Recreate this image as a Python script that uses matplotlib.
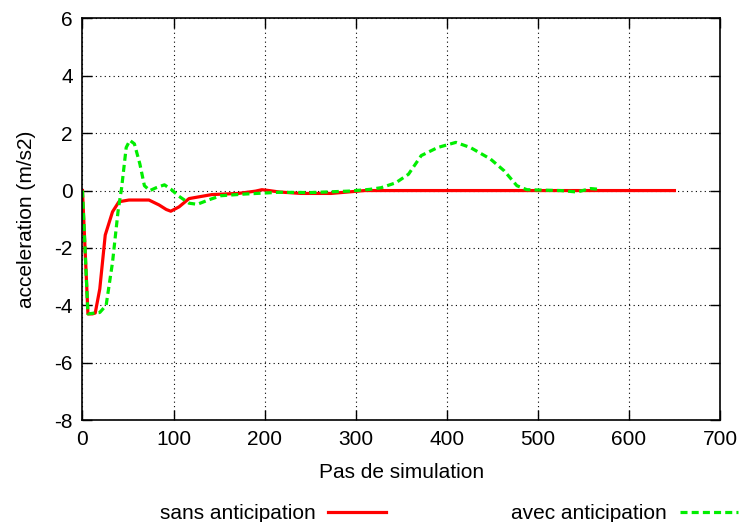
import matplotlib
matplotlib.use("Agg")
import matplotlib.pyplot as plt
from matplotlib.lines import Line2D

plt.rcParams['font.family'] = ['Liberation Sans', 'DejaVu Sans']
plt.rcParams['axes.unicode_minus'] = False

# Data
x_sans = [0, 6, 11, 14, 19, 25, 33, 40, 51, 73, 84, 92, 97, 106, 117, 142, 171, 190, 197, 205, 216, 240, 273, 310, 400, 500, 600, 650]
y_sans = [0, -4.3, -4.3, -4.27, -3.43, -1.55, -0.74, -0.39, -0.33, -0.33, -0.5, -0.66, -0.72, -0.57, -0.28, -0.14, -0.1, -0.02, 0.03, 0.0, -0.05, -0.1, -0.1, 0.0, 0.0, 0.0, 0.0, 0.0]

x_avec = [0, 6, 19, 26, 33, 39, 43, 48, 52, 57, 63, 68, 74, 81, 90, 97, 106, 117, 126, 139, 152, 179, 216, 250, 292, 315, 328, 344, 358, 372, 390, 410, 426, 448, 463, 477, 488, 525, 543, 558, 565]
y_avec = [0, -4.3, -4.25, -4.0, -2.5, -0.74, 0.1, 1.5, 1.75, 1.63, 0.93, 0.17, 0.0, 0.1, 0.2, 0.05, -0.2, -0.44, -0.48, -0.32, -0.18, -0.12, -0.06, -0.07, -0.02, 0.04, 0.1, 0.27, 0.57, 1.22, 1.5, 1.68, 1.5, 1.1, 0.69, 0.17, 0.03, 0.0, -0.05, 0.07, 0.05]

x_ticks = [0, 100, 200, 300, 400, 500, 600, 700]
y_ticks = [-8, -6, -4, -2, 0, 2, 4, 6]
labels = ["sans anticipation", "avec anticipation"]

FS = 15

fig = plt.figure(figsize=(7.43, 5.22), dpi=100)
ax = fig.add_axes([0.111, 0.1954, 0.858, 0.7692])

ax.plot(x_sans, y_sans, color='#ff0000', lw=2.3, label=labels[0])
ax.plot(x_avec, y_avec, color='#00ee00', lw=2.3, ls=(0, (2.2, 1.3)), label=labels[1])

ax.set_xlim(0, 700)
ax.set_ylim(-8, 6)
ax.set_xticks(x_ticks)
ax.set_yticks(y_ticks)
ax.tick_params(direction='in', length=7, top=True, right=True, labelsize=FS, width=1, pad=7)
ax.grid(True, color='black', ls=(0, (1, 3)), lw=0.8)
for s in ax.spines.values():
    s.set_linewidth(1.2)
ax.set_xlabel("Pas de simulation", fontsize=FS, labelpad=10)
ax.set_ylabel("acceleration (m/s2)", fontsize=FS, labelpad=13)

handles = [Line2D([], [], color='#ff0000', lw=2.3),
           Line2D([], [], color='#00ee00', lw=2.3, ls=(0, (2.2, 1.3)))]
fig.legend(handles, labels, loc='lower center', bbox_to_anchor=(0.604, -0.038), ncol=2,
           markerfirst=False, frameon=False, fontsize=FS, handlelength=2.8,
           columnspacing=6.0, handletextpad=0.6)

fig.savefig("out.png", dpi=100)
